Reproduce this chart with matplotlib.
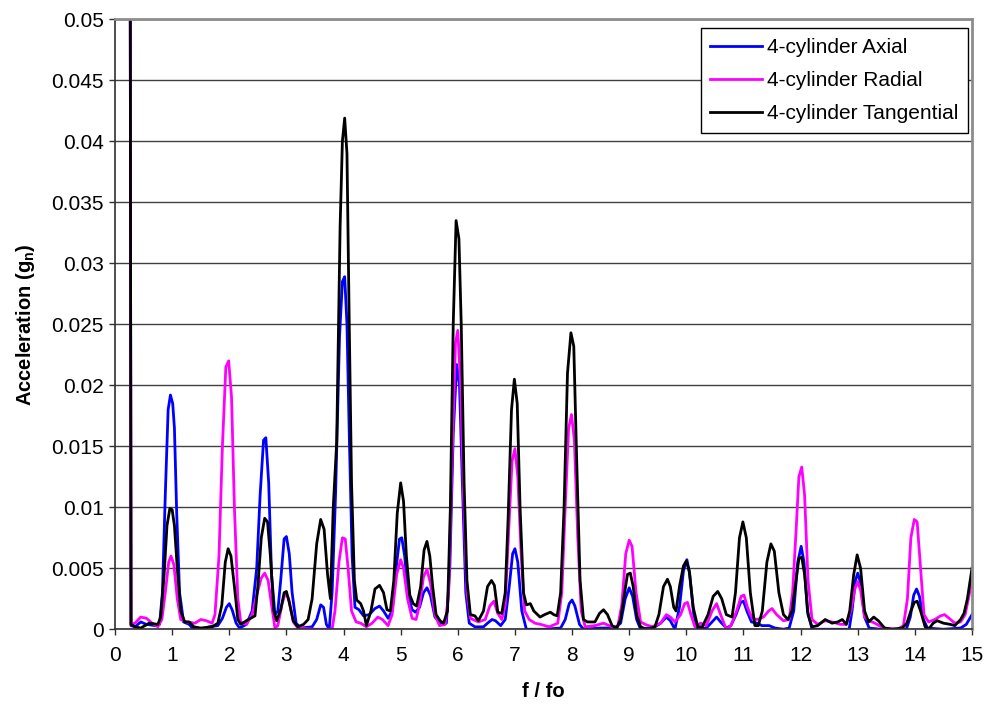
import matplotlib
matplotlib.use("Agg")
import matplotlib.pyplot as plt
from matplotlib.ticker import MultipleLocator, FormatStrFormatter

plt.rcParams['font.family'] = ['Liberation Sans', 'DejaVu Sans']

# (f/fo, acceleration in g_n)
axial = [
    (0.25, 0.12), (0.28, 0.0003), (0.35, 0.0002), (0.45, 0.0006), (0.55, 0.0004), (0.7, 0.0003),
    (0.78, 0.0004), (0.83, 0.003), (0.88, 0.011), (0.93, 0.018), (0.97, 0.0192), (1.01, 0.0185),
    (1.04, 0.0165), (1.08, 0.0095), (1.13, 0.003), (1.2, 0.0006), (1.3, 0.0004), (1.37, 0.0),
    (1.5, 0.0), (1.65, 0.0002), (1.8, 0.0003), (1.88, 0.0009), (1.95, 0.0018), (2.0, 0.0021),
    (2.05, 0.0016), (2.12, 0.0005), (2.18, 0.0001), (2.3, 0.0004), (2.4, 0.0015), (2.48, 0.005),
    (2.54, 0.011), (2.6, 0.0155), (2.64, 0.0157), (2.69, 0.012), (2.74, 0.0045), (2.8, 0.0012),
    (2.85, 0.0015), (2.9, 0.004), (2.96, 0.0074), (3.0, 0.0076), (3.05, 0.0062), (3.1, 0.003),
    (3.17, 0.0005), (3.25, 0.0001), (3.45, 0.0002), (3.53, 0.0008), (3.6, 0.002), (3.65, 0.0018),
    (3.7, 0.0004), (3.75, 0.0), (3.8, 0.003), (3.86, 0.011), (3.93, 0.024), (3.98, 0.0285),
    (4.02, 0.0289), (4.06, 0.025), (4.1, 0.016), (4.15, 0.006), (4.2, 0.0018), (4.27, 0.0016),
    (4.35, 0.0011), (4.45, 0.0012), (4.55, 0.0017), (4.63, 0.0019), (4.7, 0.0015), (4.78, 0.0009),
    (4.85, 0.0015), (4.92, 0.005), (4.98, 0.0074), (5.02, 0.0075), (5.07, 0.006), (5.13, 0.0028),
    (5.2, 0.0016), (5.26, 0.0014), (5.33, 0.0018), (5.4, 0.003), (5.46, 0.0034), (5.52, 0.0028),
    (5.6, 0.001), (5.7, 0.0005), (5.8, 0.0005), (5.86, 0.005), (5.92, 0.016), (5.98, 0.0217),
    (6.03, 0.02), (6.08, 0.012), (6.14, 0.003), (6.2, 0.0005), (6.3, 0.0002), (6.45, 0.0002),
    (6.52, 0.0005), (6.6, 0.0008), (6.66, 0.0007), (6.75, 0.0003), (6.83, 0.0008), (6.9, 0.0035),
    (6.96, 0.0062), (7.0, 0.0066), (7.05, 0.0055), (7.12, 0.0015), (7.2, 0.0), (7.5, 0.0),
    (7.8, 0.0001), (7.88, 0.0008), (7.95, 0.0021), (8.0, 0.0024), (8.05, 0.0019), (8.13, 0.0004),
    (8.2, 0.0), (8.5, 0.0001), (8.75, 0.0001), (8.85, 0.0005), (8.93, 0.0025), (9.0, 0.0034),
    (9.06, 0.0027), (9.13, 0.0008), (9.2, 0.0), (9.45, 0.0002), (9.55, 0.0005), (9.65, 0.001),
    (9.72, 0.0007), (9.8, 0.0), (9.88, 0.0018), (9.95, 0.0048), (10.01, 0.0057), (10.06, 0.0045),
    (10.13, 0.0012), (10.2, 0.0), (10.35, 0.0001), (10.45, 0.0006), (10.53, 0.001), (10.6, 0.0006),
    (10.7, 0.0001), (10.78, 0.0003), (10.87, 0.0012), (10.95, 0.0022), (11.0, 0.0023), (11.06, 0.0015),
    (11.14, 0.0006), (11.24, 0.0005), (11.32, 0.0003), (11.45, 0.0003), (11.55, 0.0001), (11.7, 0.0),
    (11.8, 0.0001), (11.88, 0.0015), (11.95, 0.0055), (12.01, 0.0068), (12.06, 0.0055), (12.12, 0.0015),
    (12.2, 0.0), (12.85, 0.0), (12.9, 0.0015), (12.96, 0.004), (13.0, 0.0046), (13.05, 0.0038),
    (13.12, 0.001), (13.2, 0.0001), (13.4, 0.0), (13.85, 0.0), (13.92, 0.001), (13.98, 0.0028),
    (14.03, 0.0033), (14.08, 0.0027), (14.15, 0.0008), (14.22, 0.0001), (14.5, 0.0), (14.8, 0.0001),
    (14.9, 0.0004), (15.0, 0.0012),
]

radial = [
    (0.25, 0.12), (0.28, 0.0004), (0.35, 0.0005), (0.45, 0.001), (0.55, 0.0009), (0.65, 0.0005),
    (0.75, 0.0002), (0.82, 0.0008), (0.88, 0.003), (0.94, 0.0055), (0.98, 0.006), (1.03, 0.0053),
    (1.09, 0.0025), (1.15, 0.0008), (1.25, 0.0006), (1.4, 0.0005), (1.5, 0.0008), (1.6, 0.0007),
    (1.7, 0.0005), (1.75, 0.0012), (1.82, 0.006), (1.88, 0.015), (1.94, 0.0215), (1.99, 0.022),
    (2.04, 0.019), (2.09, 0.01), (2.15, 0.0025), (2.2, 0.0006), (2.3, 0.0004), (2.4, 0.0012),
    (2.48, 0.0028), (2.56, 0.0042), (2.62, 0.0046), (2.68, 0.004), (2.74, 0.002), (2.8, 0.0001),
    (2.85, 0.0003), (2.92, 0.002), (2.98, 0.003), (3.04, 0.0025), (3.12, 0.0006), (3.2, 0.0001),
    (3.5, 0.0), (3.8, 0.0), (3.85, 0.0015), (3.92, 0.0055), (3.98, 0.0075), (4.03, 0.0074),
    (4.08, 0.005), (4.14, 0.0015), (4.22, 0.0006), (4.3, 0.0005), (4.4, 0.0002), (4.5, 0.0005),
    (4.6, 0.001), (4.68, 0.0008), (4.78, 0.0003), (4.85, 0.0012), (4.93, 0.0045), (5.0, 0.0057),
    (5.05, 0.005), (5.12, 0.0025), (5.2, 0.0009), (5.27, 0.0008), (5.33, 0.002), (5.4, 0.0043),
    (5.46, 0.0049), (5.52, 0.0038), (5.6, 0.0012), (5.68, 0.0003), (5.78, 0.0004), (5.84, 0.003),
    (5.9, 0.014), (5.96, 0.0235), (6.0, 0.0245), (6.05, 0.02), (6.1, 0.011), (6.16, 0.003),
    (6.22, 0.0009), (6.36, 0.0006), (6.48, 0.0008), (6.56, 0.0019), (6.63, 0.0023), (6.7, 0.0013),
    (6.77, 0.0008), (6.83, 0.002), (6.89, 0.008), (6.95, 0.0138), (7.0, 0.0148), (7.05, 0.0125),
    (7.11, 0.006), (7.17, 0.0015), (7.25, 0.0008), (7.35, 0.0005), (7.45, 0.0004), (7.6, 0.0002),
    (7.75, 0.0005), (7.82, 0.003), (7.88, 0.01), (7.94, 0.0165), (7.99, 0.0176), (8.04, 0.0155),
    (8.1, 0.0075), (8.16, 0.0015), (8.23, 0.0002), (8.4, 0.0003), (8.55, 0.0005), (8.7, 0.0002),
    (8.8, 0.0002), (8.87, 0.002), (8.94, 0.0062), (9.0, 0.0073), (9.05, 0.0068), (9.12, 0.003),
    (9.2, 0.0006), (9.28, 0.0004), (9.4, 0.0002), (9.55, 0.0005), (9.65, 0.0012), (9.72, 0.001),
    (9.8, 0.0006), (9.9, 0.0012), (9.97, 0.0021), (10.02, 0.0022), (10.08, 0.0012), (10.15, 0.0002),
    (10.25, 0.0005), (10.35, 0.0003), (10.45, 0.0015), (10.53, 0.0021), (10.6, 0.0012), (10.7, 0.0),
    (10.78, 0.0003), (10.88, 0.0015), (10.96, 0.0027), (11.01, 0.0028), (11.07, 0.0018), (11.15, 0.0009),
    (11.24, 0.0008), (11.35, 0.001), (11.44, 0.0015), (11.5, 0.0017), (11.58, 0.0012), (11.7, 0.0007),
    (11.8, 0.0008), (11.86, 0.003), (11.92, 0.008), (11.97, 0.0125), (12.02, 0.0133), (12.07, 0.011),
    (12.13, 0.004), (12.2, 0.0008), (12.3, 0.0004), (12.43, 0.0007), (12.55, 0.0006), (12.7, 0.0004),
    (12.8, 0.0004), (12.88, 0.0015), (12.95, 0.0033), (13.0, 0.0039), (13.05, 0.0032), (13.12, 0.001),
    (13.2, 0.0007), (13.3, 0.0005), (13.45, 0.0001), (13.7, 0.0), (13.8, 0.0003), (13.87, 0.0025),
    (13.93, 0.0075), (13.99, 0.009), (14.04, 0.0088), (14.1, 0.005), (14.16, 0.0012), (14.24, 0.0006),
    (14.35, 0.0008), (14.45, 0.0011), (14.52, 0.0012), (14.6, 0.0009), (14.7, 0.0005), (14.8, 0.0006),
    (14.88, 0.0012), (14.95, 0.0028), (15.0, 0.0042),
]

tangential = [
    (0.25, 0.12), (0.28, 0.0004), (0.35, 0.0002), (0.45, 0.0001), (0.6, 0.0005), (0.75, 0.0004),
    (0.8, 0.001), (0.86, 0.0045), (0.91, 0.0085), (0.96, 0.0099), (1.0, 0.0098), (1.04, 0.0085),
    (1.09, 0.005), (1.15, 0.0015), (1.22, 0.0006), (1.3, 0.0006), (1.38, 0.0002), (1.5, 0.0001),
    (1.7, 0.0002), (1.8, 0.0005), (1.87, 0.002), (1.93, 0.0055), (1.98, 0.0066), (2.03, 0.006),
    (2.09, 0.0035), (2.15, 0.0008), (2.2, 0.0004), (2.3, 0.0007), (2.45, 0.0011), (2.5, 0.0035),
    (2.56, 0.0075), (2.62, 0.0091), (2.67, 0.0088), (2.72, 0.006), (2.78, 0.0015), (2.83, 0.0007),
    (2.9, 0.0016), (2.96, 0.003), (3.0, 0.0031), (3.05, 0.0022), (3.12, 0.0007), (3.2, 0.0002),
    (3.3, 0.0004), (3.38, 0.0008), (3.45, 0.0025), (3.53, 0.007), (3.6, 0.009), (3.66, 0.0082),
    (3.72, 0.0045), (3.77, 0.0025), (3.82, 0.01), (3.88, 0.0153), (3.94, 0.033), (3.98, 0.040),
    (4.02, 0.0419), (4.06, 0.039), (4.1, 0.025), (4.14, 0.012), (4.19, 0.004), (4.23, 0.0024),
    (4.3, 0.0021), (4.35, 0.0015), (4.4, 0.0003), (4.48, 0.0015), (4.55, 0.0033), (4.63, 0.0036),
    (4.7, 0.003), (4.76, 0.0016), (4.82, 0.0015), (4.88, 0.004), (4.94, 0.0095), (5.0, 0.012),
    (5.05, 0.0105), (5.1, 0.006), (5.16, 0.0028), (5.22, 0.0021), (5.28, 0.0019), (5.35, 0.0035),
    (5.41, 0.0065), (5.46, 0.0072), (5.51, 0.006), (5.56, 0.0035), (5.62, 0.0012), (5.69, 0.0007),
    (5.75, 0.0005), (5.82, 0.0015), (5.87, 0.01), (5.92, 0.025), (5.97, 0.0335), (6.02, 0.032),
    (6.06, 0.025), (6.11, 0.012), (6.16, 0.004), (6.22, 0.0012), (6.3, 0.0011), (6.36, 0.0007),
    (6.45, 0.0015), (6.52, 0.0035), (6.59, 0.004), (6.64, 0.0036), (6.7, 0.0014), (6.77, 0.0013),
    (6.83, 0.003), (6.88, 0.009), (6.94, 0.018), (6.99, 0.0205), (7.04, 0.0185), (7.09, 0.01),
    (7.15, 0.003), (7.2, 0.002), (7.27, 0.0021), (7.33, 0.0015), (7.44, 0.001), (7.52, 0.0012),
    (7.62, 0.0014), (7.68, 0.0012), (7.74, 0.0011), (7.8, 0.003), (7.86, 0.01), (7.92, 0.021),
    (7.98, 0.0243), (8.03, 0.0232), (8.08, 0.014), (8.14, 0.004), (8.2, 0.0008), (8.27, 0.0006),
    (8.4, 0.0006), (8.48, 0.0013), (8.55, 0.0016), (8.62, 0.0012), (8.7, 0.0003), (8.78, 0.0001),
    (8.85, 0.0008), (8.92, 0.003), (8.97, 0.0045), (9.02, 0.0046), (9.07, 0.0035), (9.13, 0.0012),
    (9.2, 0.0002), (9.3, 0.0), (9.45, 0.0002), (9.52, 0.0012), (9.6, 0.0035), (9.67, 0.0041),
    (9.72, 0.0035), (9.78, 0.0018), (9.82, 0.0015), (9.88, 0.0035), (9.95, 0.0052), (10.0, 0.0056),
    (10.05, 0.0048), (10.12, 0.0018), (10.2, 0.0002), (10.28, 0.0002), (10.38, 0.0012), (10.47, 0.0027),
    (10.55, 0.0031), (10.62, 0.0025), (10.7, 0.0012), (10.8, 0.001), (10.86, 0.003), (10.93, 0.0075),
    (10.99, 0.0088), (11.05, 0.0075), (11.12, 0.003), (11.2, 0.0003), (11.26, 0.0003), (11.33, 0.0015),
    (11.41, 0.0055), (11.48, 0.007), (11.54, 0.0064), (11.62, 0.003), (11.7, 0.0012), (11.78, 0.0008),
    (11.85, 0.0015), (11.92, 0.004), (11.97, 0.0058), (12.02, 0.0059), (12.07, 0.0045), (12.13, 0.0012),
    (12.2, 0.0002), (12.3, 0.0003), (12.43, 0.0008), (12.55, 0.0005), (12.65, 0.0006), (12.73, 0.0008),
    (12.8, 0.0004), (12.86, 0.0015), (12.93, 0.0045), (12.99, 0.0061), (13.05, 0.005), (13.12, 0.0015),
    (13.19, 0.0006), (13.28, 0.001), (13.36, 0.0007), (13.47, 0.0001), (13.6, 0.0), (13.78, 0.0001),
    (13.86, 0.0005), (13.93, 0.0015), (13.99, 0.0022), (14.04, 0.0023), (14.1, 0.0015), (14.18, 0.0002),
    (14.24, 0.0), (14.32, 0.0005), (14.39, 0.0007), (14.5, 0.0005), (14.62, 0.0004), (14.7, 0.0003),
    (14.8, 0.0008), (14.86, 0.0013), (14.92, 0.0025), (15.0, 0.005),
]

series = [
    ("4-cylinder Axial", axial, "#0000FF"),
    ("4-cylinder Radial", radial, "#FF00FF"),
    ("4-cylinder Tangential", tangential, "#000000"),
]

fig = plt.figure(figsize=(9.88, 7.12), dpi=100)
ax = fig.add_axes([0.1164, 0.1162, 0.8674, 0.8567])

for name, pts, col in series:
    xs = [p[0] for p in pts]
    ys = [p[1] for p in pts]
    ax.plot(xs, ys, color=col, lw=2.0, label=name, solid_joinstyle='round')

ax.set_xlim(0, 15)
ax.set_ylim(0, 0.05)
ax.xaxis.set_major_locator(MultipleLocator(1))
ax.yaxis.set_major_locator(MultipleLocator(0.005))
ax.yaxis.set_major_formatter(FormatStrFormatter('%g'))

ax.yaxis.grid(True, color='#404040', lw=1.0)
ax.set_axisbelow(True)

for side in ('top', 'right'):
    ax.spines[side].set_color('#8c8c8c')
    ax.spines[side].set_linewidth(2)
for side in ('left', 'bottom'):
    ax.spines[side].set_color('#303030')
    ax.spines[side].set_linewidth(1.2)

ax.tick_params(axis='both', direction='out', length=4, width=1, color='#303030',
               labelsize=15)
ax.tick_params(axis='x', pad=8)
ax.tick_params(axis='y', pad=4)

ax.set_xlabel('f / fo', fontsize=14.5, fontweight='bold', labelpad=12)
ax.set_ylabel('Acceleration (g$_\\mathregular{n}$)', fontsize=14.5, fontweight='bold', labelpad=10)

leg = ax.legend(loc='upper right', bbox_to_anchor=(0.9955, 0.985), fontsize=15,
                frameon=True, fancybox=False, shadow=False, borderpad=0.45,
                handlelength=2.5, handletextpad=0.25, labelspacing=0.68,
                borderaxespad=0.0)
leg.get_frame().set_edgecolor('black')
leg.get_frame().set_linewidth(1.0)
leg.get_frame().set_alpha(1)

fig.savefig('out.png', dpi=100)
